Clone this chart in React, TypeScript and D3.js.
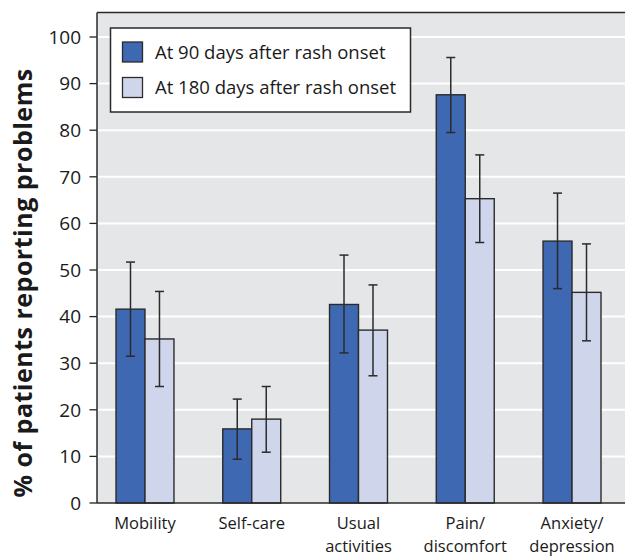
import React from "react";
import * as d3 from "d3";

const categories = ["Mobility", "Self-care", "Usual activities", "Pain/ discomfort", "Anxiety/ depression"];
const categoryLines = [["Mobility"], ["Self-care"], ["Usual", "activities"], ["Pain/", "discomfort"], ["Anxiety/", "depression"]];
const seriesNames = ["At 90 days after rash onset", "At 180 days after rash onset"];
const values90 = [41.6, 15.9, 42.6, 87.6, 56.2];
const low90 = [31.5, 9.4, 32.2, 79.5, 46.0];
const high90 = [51.7, 22.3, 53.2, 95.6, 66.5];
const values180 = [35.2, 18.0, 37.1, 65.3, 45.2];
const low180 = [25.0, 10.9, 27.3, 55.9, 34.8];
const high180 = [45.4, 25.0, 46.8, 74.7, 55.6];
const yTicks = [0, 10, 20, 30, 40, 50, 60, 70, 80, 90, 100];
const colors = ["#3e68b1", "#cfd5ea"];

export default function App() {
  const W = 625, H = 556;
  const plotL = 97, plotR = 625, plotT = 12.5, plotB = 503;
  const y = d3.scaleLinear().domain([0, 100]).range([503, 37]);
  const x = d3.scaleBand<string>().domain(categories).range([116, 601]).paddingInner(0.457).paddingOuter(0);
  const xs = d3.scaleBand<string>().domain(["90", "180"]).range([0, x.bandwidth()]).padding(0);
  const series = [
    { key: "90", vals: values90, lo: low90, hi: high90 },
    { key: "180", vals: values180, lo: low180, hi: high180 },
  ];
  const font = "'Open Sans', 'Noto Sans', sans-serif";
  return (
    <svg width={W} height={H} style={{ position: "absolute", left: 0, top: 0 }} fontFamily={font}>
      <rect x={plotL} y={plotT} width={plotR - plotL} height={plotB - plotT} fill="#e5e6e8" />
      {yTicks.map((t) => (
        <g key={t}>
          {t > 0 && <line x1={plotL} x2={plotR} y1={y(t)} y2={y(t)} stroke="#ffffff" strokeWidth={2} />}
          <line x1={89.5} x2={plotL} y1={y(t)} y2={y(t)} stroke="#222" strokeWidth={1.3} />
          <text x={81} y={y(t)} dy="0.36em" textAnchor="end" fontSize={19} fill="#1a1a1a">{t}</text>
        </g>
      ))}
      <line x1={plotL} x2={plotR} y1={plotT} y2={plotT} stroke="#2a2a2a" strokeWidth={1.5} />
      <line x1={plotL} x2={plotL} y1={plotT} y2={plotB} stroke="#2a2a2a" strokeWidth={1.5} />
      {categories.map((c, i) => (
        <g key={c} transform={`translate(${x(c)},0)`}>
          {series.map((s, j) => {
            const bx = xs(s.key) as number;
            const bw = xs.bandwidth();
            const cx = bx + bw / 2;
            return (
              <g key={s.key}>
                <rect x={bx} y={y(s.vals[i])} width={bw} height={y(0) - y(s.vals[i])} fill={colors[j]} stroke="#2b2b2b" strokeWidth={1.4} />
                <line x1={cx} x2={cx} y1={y(s.hi[i])} y2={y(s.lo[i])} stroke="#2b2b2b" strokeWidth={1.5} />
                <line x1={cx - 4.5} x2={cx + 4.5} y1={y(s.hi[i])} y2={y(s.hi[i])} stroke="#2b2b2b" strokeWidth={1.5} />
                <line x1={cx - 4.5} x2={cx + 4.5} y1={y(s.lo[i])} y2={y(s.lo[i])} stroke="#2b2b2b" strokeWidth={1.5} />
              </g>
            );
          })}
          <text textAnchor="middle" fontSize={16.5} fill="#1a1a1a">
            {categoryLines[i].map((ln, k) => (
              <tspan key={k} x={x.bandwidth() / 2} y={529 + k * 22.5}>{ln}</tspan>
            ))}
          </text>
        </g>
      ))}
      <line x1={plotL} x2={plotR} y1={plotB} y2={plotB} stroke="#2a2a2a" strokeWidth={1.5} />
      <text transform={`translate(32,283) rotate(-90)`} textAnchor="middle" fontSize={25} fontWeight="bold" letterSpacing={0.5} fill="#1a1a1a">% of patients reporting problems</text>
      <rect x={110.5} y={28} width={300} height={84} fill="#ffffff" stroke="#2a2a2a" strokeWidth={1.5} />
      {seriesNames.map((n, j) => (
        <g key={n}>
          <rect x={122.5} y={42 + j * 35.5} width={20} height={20} fill={colors[j]} stroke="#2b2b2b" strokeWidth={1.3} />
          <text x={155} y={58.5 + j * 35.5} fontSize={18.5} fill="#1a1a1a">{n}</text>
        </g>
      ))}
    </svg>
  );
}
